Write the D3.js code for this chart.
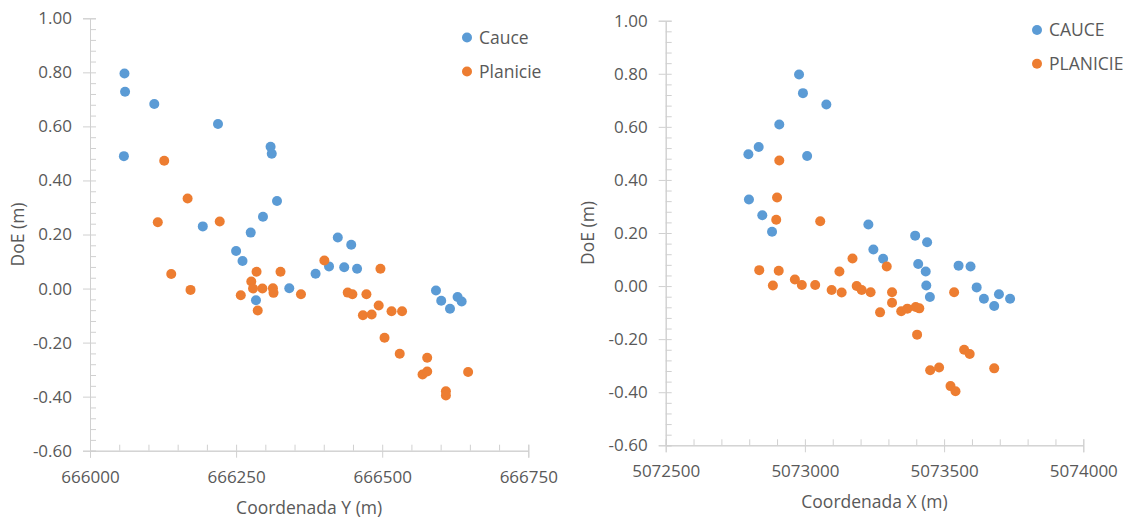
<!DOCTYPE html>
<html>
<head>
<meta charset="utf-8">
<script src="https://cdn.jsdelivr.net/npm/d3@7"></script>
<style>
  body { margin: 0; background: #fff; }
  text { font-family: "Open Sans", "Noto Sans", sans-serif; fill: #595959; }
</style>
</head>
<body>
<div id="chart"></div>
<script>
/**
 * DATA
 * */
// left chart: Coordenada Y
const caucY = [666059, 666060, 666058, 666110, 666219, 666309, 666311, 666320, 666296, 666275,
  666193, 666250, 666261, 666284, 666341, 666386, 666409, 666424, 666447, 666435,
  666457, 666592, 666601, 666616, 666629, 666636];
const caucYDoE = [0.796, 0.728, 0.490, 0.683, 0.609, 0.525, 0.499, 0.324, 0.266, 0.207,
  0.230, 0.139, 0.102, -0.043, 0.001, 0.055, 0.082, 0.189, 0.162, 0.079,
  0.073, -0.007, -0.045, -0.075, -0.031, -0.048];
const planY = [666127, 666167, 666116, 666222, 666139, 666172, 666285, 666276, 666279, 666295,
  666313, 666314, 666326, 666258, 666287, 666361, 666401, 666497, 666441, 666449,
  666473, 666494, 666467, 666482, 666516, 666534, 666504, 666530, 666577, 666569,
  666577, 666647, 666609, 666609];
const planYDoE = [0.473, 0.333, 0.245, 0.248, 0.054, -0.005, 0.062, 0.026, 0.000, 0.000,
  0.001, -0.016, 0.062, -0.025, -0.081, -0.021, 0.104, 0.073, -0.015, -0.021,
  -0.021, -0.063, -0.099, -0.096, -0.084, -0.084, -0.182, -0.241, -0.256, -0.318,
  -0.307, -0.309, -0.380, -0.396];

// right chart: Coordenada X
const caucX = [5072979, 5072993, 5073077, 5072908, 5072834, 5072797, 5073008, 5072799, 5072847, 5072882,
  5073228, 5073396, 5073439, 5073246, 5073281, 5073407, 5073434, 5073436, 5073449, 5073552,
  5073595, 5073617, 5073643, 5073697, 5073680, 5073737];
const caucXDoE = [0.797, 0.727, 0.684, 0.609, 0.524, 0.497, 0.490, 0.326, 0.267, 0.205,
  0.232, 0.190, 0.165, 0.138, 0.103, 0.083, 0.055, 0.002, -0.041, 0.077,
  0.074, -0.005, -0.048, -0.031, -0.075, -0.048];
const planX = [5072908, 5072900, 5072897, 5073055, 5073171, 5073294, 5072836, 5072906, 5072885, 5072964,
  5072989, 5073037, 5073096, 5073132, 5073124, 5073186, 5073204, 5073236, 5073313, 5073313,
  5073270, 5073346, 5073368, 5073398, 5073411, 5073403, 5073536, 5073572, 5073592, 5073450,
  5073482, 5073680, 5073523, 5073541];
const planXDoE = [0.473, 0.334, 0.250, 0.244, 0.104, 0.074, 0.060, 0.058, 0.002, 0.025,
  0.004, 0.004, -0.015, -0.024, 0.055, 0.000, -0.015, -0.023, -0.023, -0.063,
  -0.099, -0.095, -0.085, -0.079, -0.084, -0.183, -0.023, -0.240, -0.256, -0.317,
  -0.307, -0.310, -0.377, -0.396];

const yTicks = [-0.6, -0.4, -0.2, 0, 0.2, 0.4, 0.6, 0.8, 1.0];
const xTicksLeft = [666000, 666250, 666500, 666750];
const xTicksRight = [5072500, 5073000, 5073500, 5074000];

/**
 * CONSTANTS
 * */
const width = 1123, height = 518;
const blue = "#5B9BD5", orange = "#ED7D31", axisColor = "#d0d0d0";
const tickFont = "17px", titleFont = "17.5px";

const svg = d3.select("#chart").append("svg")
  .attr("width", width)
  .attr("height", height);

const charts = [
  {
    xDomain: [666000, 666750], xRange: [90, 528.3], yRange: [450.7, 18.3],
    xTicks: xTicksLeft, xMinor: 50,
    series: [
      { name: "Cauce", xs: caucY, ys: caucYDoE, color: blue },
      { name: "Planicie", xs: planY, ys: planYDoE, color: orange }
    ],
    xTitle: "Coordenada Y (m)", xTitleY: 514, yTitleX: 24,
    legend: { x: 467, y: 37.5, gap: 34 }
  },
  {
    xDomain: [5072500, 5074000], xRange: [665.7, 1083.3], yRange: [445.3, 20.7],
    xTicks: xTicksRight, xMinor: 100,
    series: [
      { name: "CAUCE", xs: caucX, ys: caucXDoE, color: blue },
      { name: "PLANICIE", xs: planX, ys: planXDoE, color: orange }
    ],
    xTitle: "Coordenada X (m)", xTitleY: 508, yTitleX: 594,
    legend: { x: 1037, y: 30, gap: 33.7 }
  }
];

charts.forEach(drawChart);

function drawChart(c) {
  const x = d3.scaleLinear().domain(c.xDomain).range(c.xRange);
  const y = d3.scaleLinear().domain([-0.6, 1.0]).range(c.yRange);
  const g = svg.append("g");

  const yMinor = d3.range(-0.6, 1.0001, 0.04);
  const xMinor = d3.range(c.xDomain[0], c.xDomain[1] + 1, c.xMinor);

  // inner (minor) ticks
  g.append("g")
    .attr("transform", `translate(${c.xRange[0]},0)`)
    .call(d3.axisRight(y).tickValues(yMinor).tickSize(6).tickFormat(""))
    .call(styleAxis);
  g.append("g")
    .attr("transform", `translate(0,${c.yRange[0]})`)
    .call(d3.axisTop(x).tickValues(xMinor).tickSize(6).tickFormat(""))
    .call(styleAxis);

  // major ticks + labels
  g.append("g")
    .attr("transform", `translate(${c.xRange[0]},0)`)
    .call(d3.axisLeft(y).tickValues(yTicks).tickSize(7).tickPadding(11)
      .tickFormat(d => d.toFixed(2)))
    .call(styleAxis);
  g.append("g")
    .attr("transform", `translate(0,${c.yRange[0]})`)
    .call(d3.axisBottom(x).tickValues(c.xTicks).tickSize(7).tickPadding(13)
      .tickFormat(d3.format("d")))
    .call(styleAxis);

  // axis titles
  g.append("text")
    .attr("x", (c.xRange[0] + c.xRange[1]) / 2)
    .attr("y", c.xTitleY)
    .attr("text-anchor", "middle")
    .style("font-size", titleFont)
    .text(c.xTitle);
  g.append("text")
    .attr("transform", `translate(${c.yTitleX},${(c.yRange[0] + c.yRange[1]) / 2}) rotate(-90)`)
    .attr("text-anchor", "middle")
    .style("font-size", titleFont)
    .text("DoE (m)");

  // points
  c.series.forEach(s => {
    g.append("g").selectAll("circle")
      .data(s.xs.map((v, i) => [v, s.ys[i]]))
      .join("circle")
      .attr("cx", d => x(d[0]))
      .attr("cy", d => y(d[1]))
      .attr("r", 5)
      .attr("fill", s.color);
  });

  // legend
  const leg = g.selectAll(".leg")
    .data(c.series)
    .join("g")
    .attr("transform", (d, i) => `translate(${c.legend.x},${c.legend.y + i * c.legend.gap})`);
  leg.append("circle").attr("r", 5).attr("fill", d => d.color);
  leg.append("text")
    .attr("x", 12)
    .attr("dy", "0.35em")
    .style("font-size", titleFont)
    .text(d => d.name);
}

function styleAxis(sel) {
  sel.select(".domain").attr("stroke", axisColor);
  sel.selectAll(".tick line").attr("stroke", axisColor);
  sel.selectAll(".tick text")
    .attr("fill", "#595959")
    .style("font-size", tickFont)
    .style("font-family", "'Open Sans', 'Noto Sans', sans-serif");
}
</script>
</body>
</html>
